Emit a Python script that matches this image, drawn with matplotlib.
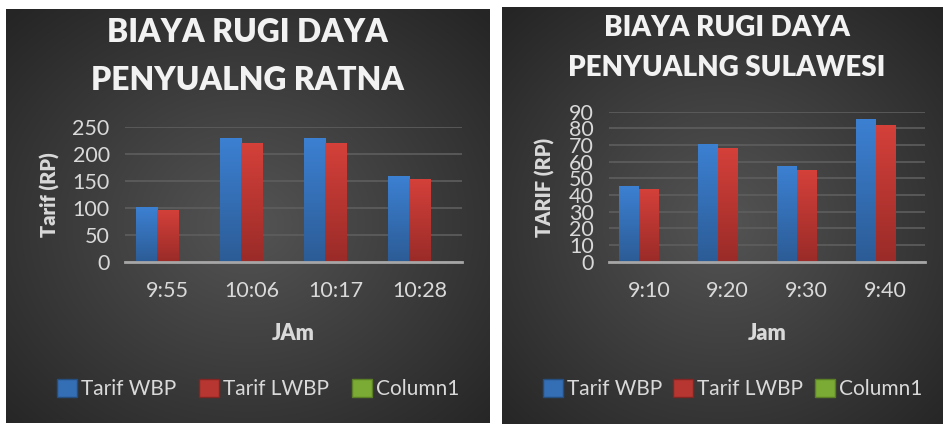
import numpy as np
import matplotlib
matplotlib.use("Agg")
import matplotlib.pyplot as plt
from matplotlib.patches import Rectangle

W, H, DPI = 943, 424, 100
FONT = "Lato"

# ---------------- data ----------------
series_names = ["Tarif WBP", "Tarif LWBP", "Column1"]

left_title_lines = ["BIAYA RUGI DAYA", "PENYUALNG RATNA"]
left_categories = ["9:55", "10:06", "10:17", "10:28"]
left_wbp = [101, 229, 229, 159]
left_lwbp = [97, 220, 220, 153]
left_column1 = [0, 0, 0, 0]
left_yticks = [0, 50, 100, 150, 200, 250]
left_ylabel = "Tarif (RP)"
left_xlabel = "JAm"

right_title_lines = ["BIAYA RUGI DAYA", "PENYUALNG SULAWESI"]
right_categories = ["9:10", "9:20", "9:30", "9:40"]
right_wbp = [45.5, 70.5, 57.5, 85.5]
right_lwbp = [43.5, 68, 55, 82]
right_column1 = [0, 0, 0, 0]
right_yticks = [0, 10, 20, 30, 40, 50, 60, 70, 80, 90]
right_ylabel = "TARIF (RP)"
right_xlabel = "Jam"

# ---------------- style ----------------
BLUE_TOP, BLUE_BOT = np.array([0x3c, 0x80, 0xd2]) / 255, np.array([0x2c, 0x5c, 0x96]) / 255
RED_TOP, RED_BOT = np.array([0xd4, 0x40, 0x3a]) / 255, np.array([0x9a, 0x2b, 0x28]) / 255
GRN_TOP, GRN_BOT = np.array([0x8c, 0xc0, 0x3e]) / 255, np.array([0x6a, 0x95, 0x2c]) / 255
grads = [(BLUE_TOP, BLUE_BOT), (RED_TOP, RED_BOT), (GRN_TOP, GRN_BOT)]
TXT = "#d9d9d9"
TITLE_C = "#f2f2f2"
HEAVY = "heavy"

fig = plt.figure(figsize=(W / DPI, H / DPI), dpi=DPI)
fig.patch.set_facecolor("white")


def fx(x):
    return x / W


def fy(y):
    return 1 - y / H


def panel_bg(x0, y0, x1, y1):
    ax = fig.add_axes([fx(x0), fy(y1), (x1 - x0) / W, (y1 - y0) / H], zorder=0)
    ny, nx = 200, 200
    yy, xx = np.mgrid[0:1:ny * 1j, 0:1:nx * 1j]
    r = np.sqrt(((xx - 0.5) / 0.75) ** 2 + ((yy - 0.52) / 0.75) ** 2)
    r = np.clip(r / 0.95, 0, 1)
    c = 0x54 / 255 * (1 - r) + 0x25 / 255 * r
    img = np.dstack([c, c, c])
    ax.imshow(img, extent=[0, 1, 0, 1], aspect="auto", interpolation="bilinear")
    ax.set_axis_off()
    return ax


def grad_img(top, bot, n=64):
    t = np.linspace(0, 1, n)[:, None]
    col = top[None, :] * (1 - t) + bot[None, :] * t
    return col[:, None, :]


def make_chart(px, title_lines, title_cfg, cats, wbp, lwbp, col1, yticks,
               ylabel, ylabel_cfg, xlabel, xlabel_y, tick_fs, tick_pad_y,
               leg_cfg):
    x0, y0, x1, y1 = px
    ax = fig.add_axes([fx(x0), fy(y1), (x1 - x0) / W, (y1 - y0) / H], zorder=2)
    ax.set_facecolor("none")
    idx = np.arange(len(cats))
    bw = 0.25
    series = [wbp, lwbp, col1]
    for si, vals in enumerate(series):
        bars = ax.bar(idx + (si - 1) * bw, vals, width=bw, color=grads[si][0],
                      linewidth=0, zorder=3)
        for b in bars:
            h = b.get_height()
            if h <= 0:
                continue
            bx = b.get_x()
            im = ax.imshow(grad_img(*grads[si]), extent=[bx, bx + b.get_width(), 0, h],
                           aspect="auto", zorder=3.5, interpolation="bilinear")
            im.set_clip_path(b)
    ax.set_xlim(-0.5, len(cats) - 0.5)
    ax.set_ylim(yticks[0], yticks[-1])
    ax.set_yticks(yticks)
    ax.set_xticks(idx)
    ax.set_xticklabels(cats)
    for s in ["top", "right", "left"]:
        ax.spines[s].set_visible(False)
    ax.spines["bottom"].set_color("#a6a6a6")
    ax.spines["bottom"].set_linewidth(2.0)
    ax.spines["bottom"].set_zorder(5)
    ax.grid(axis="y", color="#5e5e5e", linewidth=1.2, zorder=1)
    ax.set_axisbelow(True)
    ax.tick_params(axis="both", length=0, colors=TXT, labelsize=tick_fs)
    ax.tick_params(axis="y", pad=tick_pad_y)
    ax.tick_params(axis="x", pad=14)
    for lab in ax.get_xticklabels() + ax.get_yticklabels():
        lab.set_fontfamily(FONT)

    # titles
    tx, ty1, ty2, tfs = title_cfg
    fig.text(fx(tx), fy(ty1), title_lines[0], ha="center", va="center",
             fontsize=tfs, fontweight=HEAVY, color=TITLE_C, family=FONT, zorder=3)
    fig.text(fx(tx), fy(ty2), title_lines[1], ha="center", va="center",
             fontsize=tfs, fontweight=HEAVY, color=TITLE_C, family=FONT, zorder=3)
    # y label
    lx, ly, lfs = ylabel_cfg
    fig.text(fx(lx), fy(ly), ylabel, rotation=90, ha="center", va="center",
             fontsize=lfs, fontweight=HEAVY, color=TXT, family=FONT, zorder=3)
    # x label
    fig.text(fx((x0 + x1) / 2), fy(xlabel_y), xlabel, ha="center", va="center",
             fontsize=lfs + 1, fontweight=HEAVY, color=TXT, family=FONT, zorder=3)
    # legend
    lcx, lcy, colsp = leg_cfg
    handles = [Rectangle((0, 0), 1, 1, facecolor=(g[0] + g[1]) / 2,
                         edgecolor=g[1] * 0.85, linewidth=1.0) for g in grads]
    leg = fig.legend(handles, series_names, loc="center",
                     bbox_to_anchor=(fx(lcx), fy(lcy)), ncol=3, frameon=False,
                     handlelength=0.95, handleheight=0.95,
                     handletextpad=0.2, columnspacing=colsp, borderpad=0,
                     prop={"family": FONT, "size": 15})
    for t in leg.get_texts():
        t.set_color(TXT)
    return ax


panel_bg(6, 9, 489, 423)
panel_bg(502, 7, 943, 424)

make_chart((125, 127, 462, 262), left_title_lines, (247.5, 33, 80, 22.9),
           left_categories, left_wbp, left_lwbp, left_column1, left_yticks,
           left_ylabel, (50, 195, 14.5), left_xlabel, 333, 15.5, 11,
           (258.5, 389, 1.1))

make_chart((609.3, 111.7, 925, 261.7), right_title_lines, (727, 28, 68, 20),
           right_categories, right_wbp, right_lwbp, right_column1, right_yticks,
           right_ylabel, (545, 187.5, 14.5), right_xlabel, 333, 15.5, 11,
           (732.5, 389, 0.55))

fig.savefig("out.png", dpi=DPI, facecolor="white")
